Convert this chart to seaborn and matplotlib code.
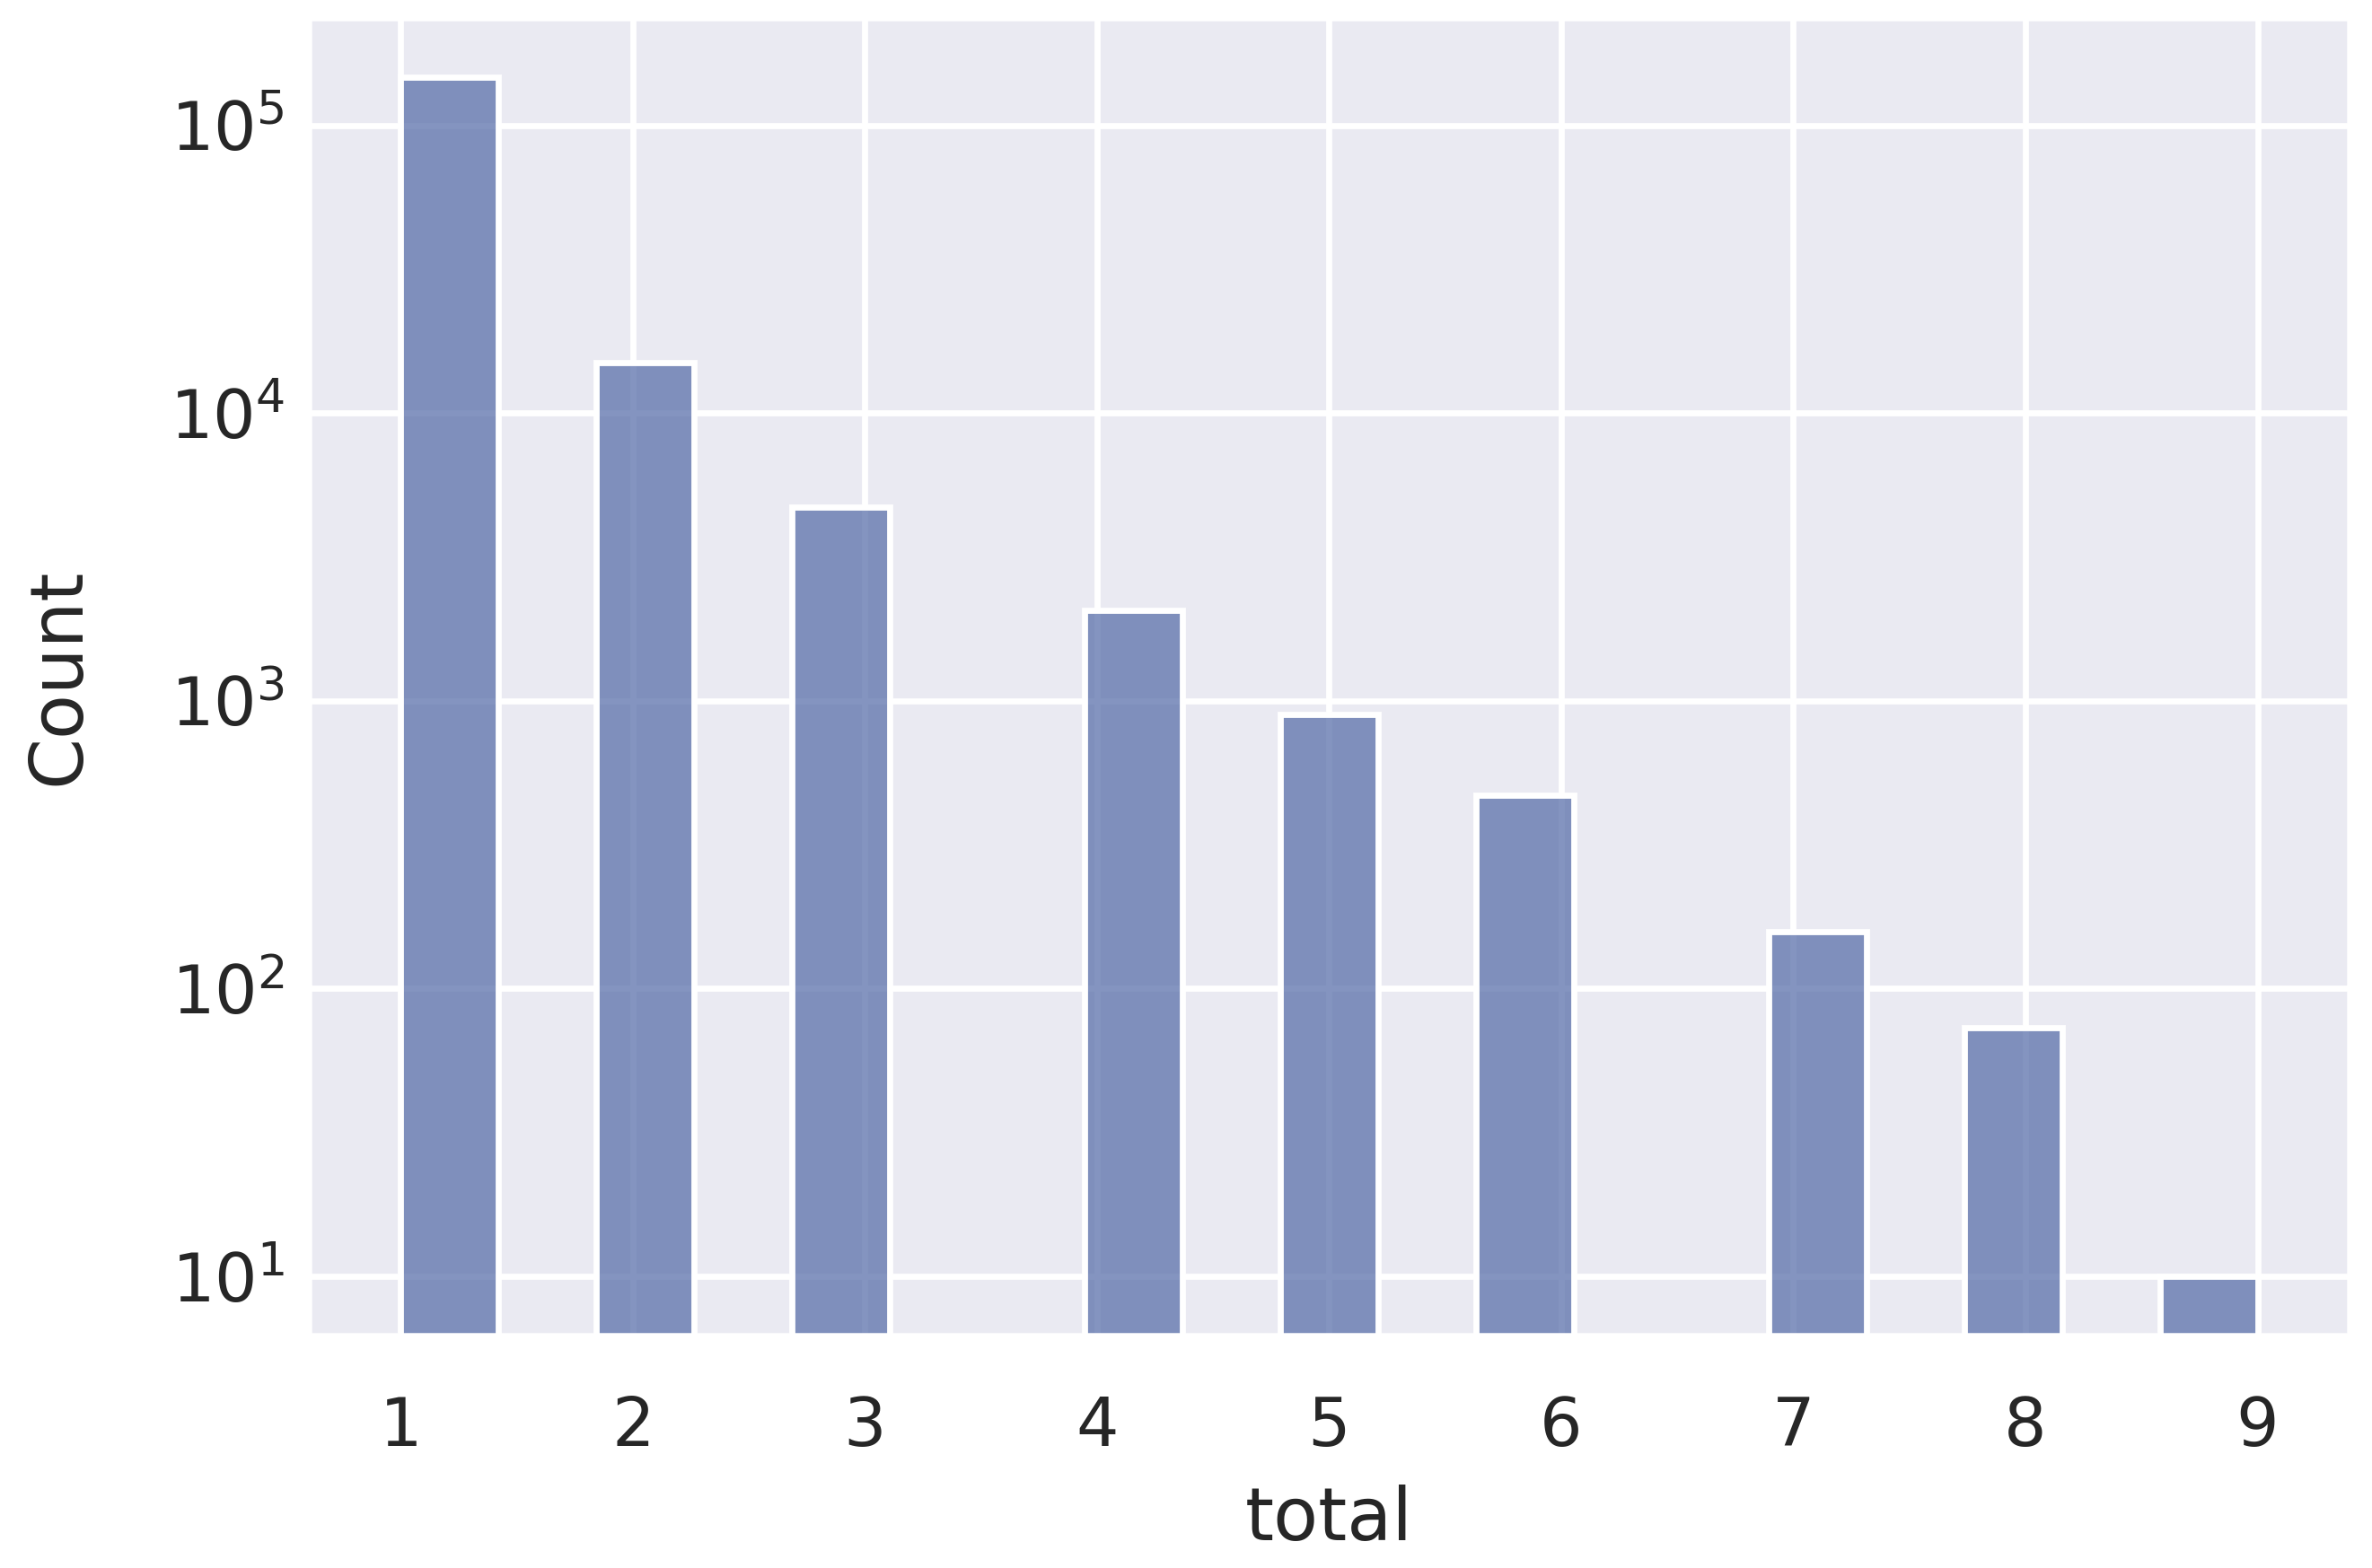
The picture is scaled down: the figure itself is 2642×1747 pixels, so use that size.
import numpy as np
import pandas as pd
import matplotlib
matplotlib.use("Agg")
import matplotlib.pyplot as plt
import seaborn as sns

# Data
totals = [1, 2, 3, 4, 5, 6, 7, 8, 9]
counts = [147000, 15000, 4700, 2070, 897, 469, 158, 73, 10]
xticks = [1, 2, 3, 4, 5, 6, 7, 8, 9]

df = pd.DataFrame({"total": totals, "n": counts})

sns.set_theme(style="darkgrid", context="poster")

dpi = 245
fig = plt.figure(figsize=(2642 / dpi, 1747 / dpi), dpi=dpi)
ax = fig.add_axes([0.1298, 0.1477, 0.9909 - 0.1298, 0.9891 - 0.1477])

sns.histplot(data=df, x="total", weights="n", bins=19, binrange=(1, 9),
             color="#5b71ab", ax=ax)
ax.set_yscale("log")
ax.set_xticks(xticks)

xpad = plt.rcParams["xtick.major.pad"]
lpad = plt.rcParams["axes.labelpad"]
ax.tick_params(axis="x", pad=xpad + 3.5)
ax.tick_params(axis="y", which="both", length=0, pad=7.6)
ax.set_xlabel("total", labelpad=lpad + 4)
ax.set_ylabel("Count", labelpad=lpad + 20.6)

fig.savefig("out.png", dpi=dpi)
